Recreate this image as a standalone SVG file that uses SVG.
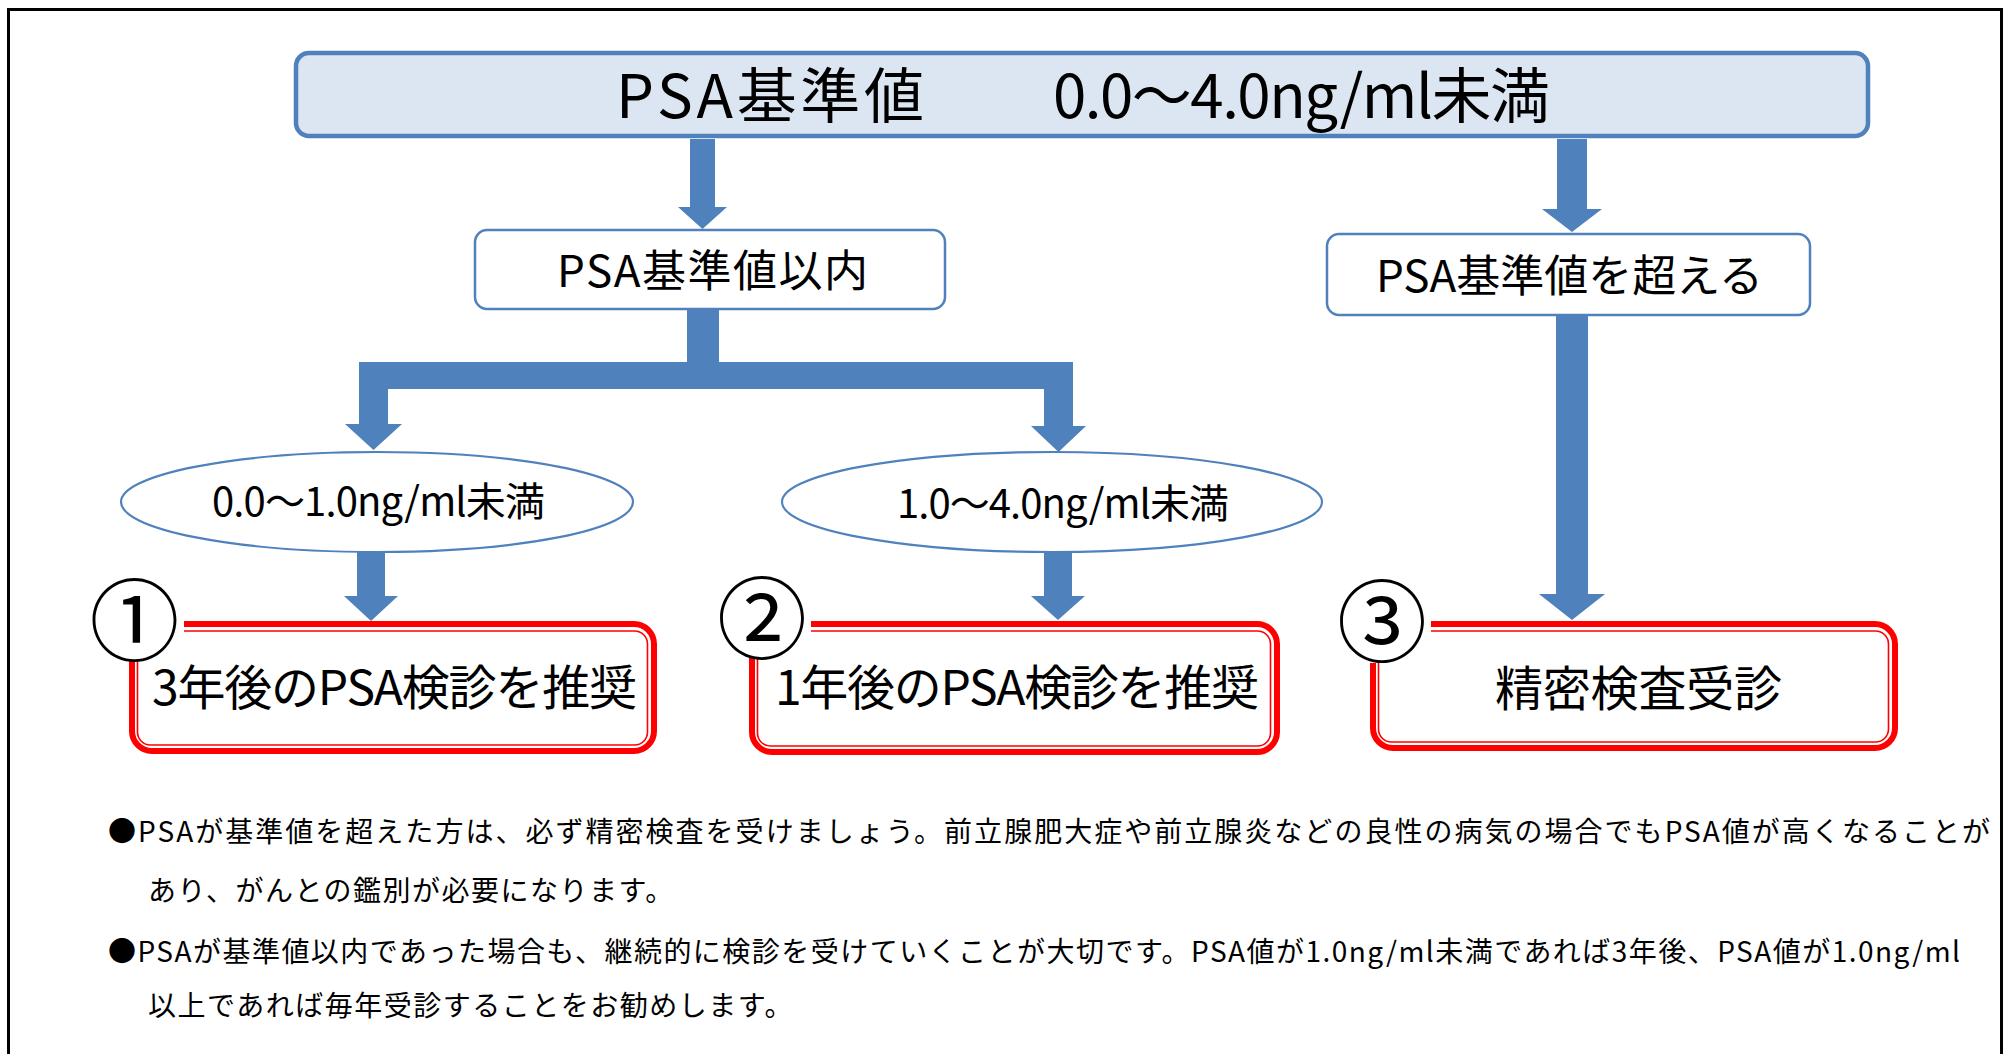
<svg xmlns="http://www.w3.org/2000/svg" width="2013" height="1054" viewBox="0 0 2013 1054">
<style>
text{font-family:"Noto Sans CJK JP","Noto Sans",sans-serif;fill:#000}
.bluebox{fill:#fff;stroke:#4f81bd;stroke-width:2.5}
.ell{fill:#fff;stroke:#4f81bd;stroke-width:2.2}
.redo{fill:none;stroke:#ff0000;stroke-width:6}
.redi{fill:none;stroke:#ff0000;stroke-width:1.6}
.cover{fill:#fff}
.arrow{fill:#4f81bd}
.num{font-size:90px;text-anchor:middle}
.note{font-size:28px}
</style>
<rect x="8.5" y="9.5" width="1993" height="1060" fill="#fff" stroke="#000" stroke-width="3"/>

<g id="top">
<rect x="296" y="53" width="1572" height="83" rx="13" fill="#dce6f2" stroke="#4f81bd" stroke-width="4.5"/>
<text y="118" font-size="60"><tspan x="616" textLength="308">PSA基準値</tspan><tspan>　　</tspan><tspan x="1053" textLength="497">0.0～4.0ng/ml未満</tspan></text>
</g>

<g id="within">
<rect class="bluebox" x="475" y="230" width="470" height="79" rx="12"/>
<text x="557" y="287" font-size="44" textLength="311">PSA基準値以内</text>
</g>

<g id="over">
<rect class="bluebox" x="1327" y="234" width="483" height="81" rx="12"/>
<text x="1376" y="292" font-size="44" textLength="387">PSA基準値を超える</text>
</g>

<g id="range1">
<ellipse class="ell" cx="377" cy="502" rx="256" ry="50"/>
<text x="212" y="516" font-size="40" textLength="333">0.0～1.0ng/ml未満</text>
</g>

<g id="range2">
<ellipse class="ell" cx="1052" cy="502" rx="270" ry="50"/>
<text x="897" y="518" font-size="40" textLength="332">1.0～4.0ng/ml未満</text>
</g>

<g id="connectors">
<polygon class="arrow" points="690,139 715,139 715,207 727,207 702.5,229 678,207 690,207"/>
<polygon class="arrow" points="1557,139 1587,139 1587,209 1602,209 1572,232 1542,209 1557,209"/>
<polygon class="arrow" points="687,309 719,309 719,362 1073,362 1073,426 1086,426 1058.5,452 1031,426 1044,426 1044,389 388,389 388,424 402,424 373.5,450 345,424 359,424 359,362 687,362"/>
<polygon class="arrow" points="357,552 385,552 385,596 398,596 371,621 344,596 357,596"/>
<polygon class="arrow" points="1044,552 1072,552 1072,596 1085,596 1058,620 1031,596 1044,596"/>
<polygon class="arrow" points="1556,316 1588,316 1588,594 1605,594 1572,620 1539,594 1556,594"/>
</g>

<g id="result1">
<rect class="redo" x="132" y="624" width="522" height="127" rx="20"/>
<rect class="redi" x="137.5" y="631" width="510" height="114" rx="13"/>
<rect class="cover" x="118" y="612" width="66" height="48"/>
<text class="num" x="134.5" y="654">①</text>
<text x="152" y="705" font-size="48" textLength="485">3年後のPSA検診を推奨</text>
</g>

<g id="result2">
<rect class="redo" x="752" y="624" width="525" height="128" rx="20"/>
<rect class="redi" x="757.5" y="631" width="513" height="115" rx="13"/>
<rect class="cover" x="738" y="612" width="73" height="46"/>
<text class="num" x="762" y="652">②</text>
<text x="775" y="705" font-size="48" textLength="484">1年後のPSA検診を推奨</text>
</g>

<g id="result3">
<rect class="redo" x="1373" y="624" width="522" height="124" rx="20"/>
<rect class="redi" x="1378.5" y="631" width="510" height="111" rx="13"/>
<rect class="cover" x="1358" y="612" width="73" height="51"/>
<text class="num" x="1382" y="655">③</text>
<text x="1495" y="706" font-size="48" textLength="287">精密検査受診</text>
</g>

<g id="notes">
<text class="note" x="108" y="842" textLength="1882">●PSAが基準値を超えた方は、必ず精密検査を受けましょう。前立腺肥大症や前立腺炎などの良性の病気の場合でもPSA値が高くなることが</text>
<text class="note" x="148" y="901" letter-spacing="1.5">あり、がんとの鑑別が必要になります。</text>
<text class="note" x="108" y="962" textLength="1852">●PSAが基準値以内であった場合も、継続的に検診を受けていくことが大切です。PSA値が1.0ng/ml未満であれば3年後、PSA値が1.0ng/ml</text>
<text class="note" x="148" y="1016" letter-spacing="1.5">以上であれば毎年受診することをお勧めします。</text>
</g>
</svg>
